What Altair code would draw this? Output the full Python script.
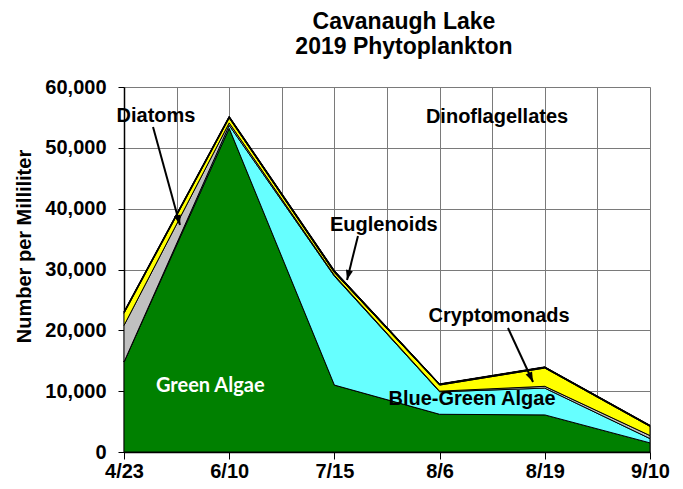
import math
import json
import altair as alt
import pandas as pd

# ---- data ----
dates = ["4/23", "6/10", "7/15", "8/6", "8/19", "9/10"]
green_algae = [14800, 53200, 11000, 6200, 6100, 1500]
blue_green_algae = [0, 500, 17900, 3700, 4400, 700]
diatoms = [6000, 400, 150, 100, 300, 500]
cryptomonads = [2000, 800, 450, 1000, 3000, 1500]
euglenoids = [200, 200, 250, 150, 150, 150]
dinoflagellates = [100, 100, 100, 50, 50, 50]

groups = ["Green Algae", "Blue-Green Algae", "Diatoms", "Cryptomonads",
          "Euglenoids", "Dinoflagellates"]
colors = ["#008000", "#66FFFF", "#C0C0C0", "#FFFF00", "#000000", "#000000"]
series = [green_algae, blue_green_algae, diatoms, cryptomonads, euglenoids,
          dinoflagellates]

y_ticks = [0, 10000, 20000, 30000, 40000, 50000, 60000]

# annotation labels (data coordinates: x = category index, y = count)
label_text = ["Diatoms", "Euglenoids", "Dinoflagellates", "Cryptomonads",
              "Blue-Green Algae"]
label_x = [0.304, 2.47, 3.546, 3.565, 3.308]
label_y = [55240, 37320, 55070, 22360, 8710]
green_label = ["Green Algae"]
green_label_x = [0.82]
green_label_y = [10850]

# arrows: start -> end
arrow_x = [0.276, 2.224, 3.65]
arrow_y = [53430, 35500, 20390]
arrow_x2 = [0.532, 2.12, 3.888]
arrow_y2 = [37320, 28280, 11510]

W, H = 526, 365
XMAX, YMAX = len(dates) - 1, 60000

rows = []
for g_i, (g, vals) in enumerate(zip(groups, series)):
    for i, v in enumerate(vals):
        rows.append({"idx": i, "date": dates[i], "group": g, "value": v, "ord": g_i})
df = pd.DataFrame(rows)

labels_df = pd.DataFrame({"x": label_x, "y": label_y, "text": label_text})
green_df = pd.DataFrame({"x": green_label_x, "y": green_label_y, "text": green_label})

angles = []
for x1, y1, x2, y2 in zip(arrow_x, arrow_y, arrow_x2, arrow_y2):
    dx = (x2 - x1) * W / XMAX
    dy = -(y2 - y1) * H / YMAX
    angles.append(math.degrees(math.atan2(dx, -dy)) % 360)
arrows_df = pd.DataFrame({"x": arrow_x, "y": arrow_y, "x2": arrow_x2,
                          "y2": arrow_y2, "angle": angles})

FONT = "Liberation Sans"
label_expr = ("datum.value % 1 === 0 ? " + json.dumps(dates) +
              "[datum.value] : ''")

x_scale = alt.Scale(domain=[0, XMAX], nice=False, zero=False)
y_scale = alt.Scale(domain=[0, YMAX], nice=False)

x_axis = alt.Axis(
    values=[i * 0.5 for i in range(2 * XMAX + 1)],
    labelExpr=label_expr, labelOverlap=False, labelFlush=False,
    grid=True, gridColor="#7a7a7a", gridWidth=1,
    tickColor="black", tickSize=7,
    tickOpacity={"condition": {"test": "datum.value % 1 === 0", "value": 1}, "value": 0},
    domainColor="black", domainWidth=1.5,
    labelFont=FONT, labelFontSize=20, labelFontWeight="bold", labelColor="black",
    labelPadding=2, title=None,
)
y_axis = alt.Axis(
    values=y_ticks, format=",.0f", grid=True, gridColor="#7a7a7a", gridWidth=1,
    tickColor="black", tickSize=6, domainColor="black", domainWidth=1.5,
    labelFont=FONT, labelFontSize=20, labelFontWeight="bold", labelColor="black",
    labelPadding=12, title="Number per Milliliter", titleFont=FONT,
    titleFontSize=20, titleFontWeight="bold", titleColor="black", titlePadding=10,
    titleY=159,
)

areas = alt.Chart(df).mark_area(
    stroke="black", strokeWidth=1, opacity=1, interpolate="linear"
).encode(
    x=alt.X("idx:Q", scale=x_scale, axis=x_axis),
    y=alt.Y("value:Q", stack="zero", scale=y_scale, axis=y_axis),
    color=alt.Color("group:N", scale=alt.Scale(domain=groups, range=colors), legend=None),
    order=alt.Order("ord:Q", sort="ascending"),
)

texts = alt.Chart(labels_df).mark_text(
    font=FONT, fontSize=20, fontWeight="bold", color="black"
).encode(x=alt.X("x:Q", scale=x_scale), y=alt.Y("y:Q", scale=y_scale), text="text:N")

gtext = alt.Chart(green_df).mark_text(
    font="Lato", fontSize=20, fontWeight="bold", color="white"
).encode(x=alt.X("x:Q", scale=x_scale), y=alt.Y("y:Q", scale=y_scale), text="text:N")

rules = alt.Chart(arrows_df).mark_rule(color="black", strokeWidth=2).encode(
    x=alt.X("x:Q", scale=x_scale), y=alt.Y("y:Q", scale=y_scale),
    x2="x2:Q", y2="y2:Q",
)
heads = alt.Chart(arrows_df).mark_point(
    shape="M0,0L-0.5,1.4L0.5,1.4Z", filled=True, color="black", opacity=1, size=200
).encode(
    x=alt.X("x2:Q", scale=x_scale), y=alt.Y("y2:Q", scale=y_scale),
    angle=alt.Angle("angle:Q", scale=None),
)

chart = alt.layer(areas, rules, heads, texts, gtext).properties(
    width=W, height=H,
    title=alt.TitleParams(["Cavanaugh Lake", "2019 Phytoplankton"], font=FONT,
                          fontSize=23, fontWeight="bold", color="black",
                          anchor="middle", dx=17, offset=18, lineHeight=25),
    padding={"left": 116, "top": 79, "right": 25, "bottom": 29},
    autosize=alt.AutoSizeParams(type="none"),
).configure_view(strokeWidth=0).configure(background="white")

chart.save("out.html", embed_options={"renderer": "svg", "actions": False})
